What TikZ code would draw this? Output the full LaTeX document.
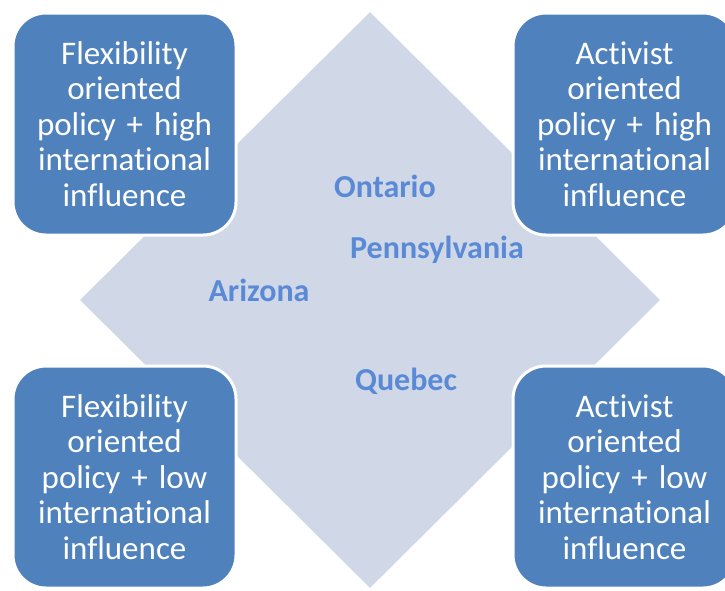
\documentclass[tikz,border=0pt]{standalone}
\usepackage{fontspec}
\setmainfont[Ligatures=NoCommon]{Carlito}
\usepackage{tikz}
\usetikzlibrary{shapes}
\definecolor{boxblue}{HTML}{4F81BD}
\definecolor{paleblue}{HTML}{D0D8E8}
\definecolor{placeblue}{HTML}{5A8AD6}

\begin{document}
\begin{tikzpicture}[x=1pt,y=-1pt,every node/.style={inner sep=0pt},quad/.style={rectangle, rounded corners=33pt, fill=boxblue, draw=white, line width=3pt, minimum width=223pt, minimum height=222pt, text width=205pt, align=center, text=white, font=\fontsize{33}{35.5}\selectfont},place/.style={text=placeblue, font=\fontsize{32}{36}\selectfont\bfseries}]
  \useasboundingbox (0,0) rectangle (725,590);
  \clip (0,0) rectangle (725,590);
  \fill[white] (0,0) rectangle (725,590);
  \node[diamond, fill=paleblue, minimum width=580pt, minimum height=576pt] (middle) at (370,300) {};
  \node[quad] (flexhigh) at (124.5,124) {Flexibility oriented policy + high international influence};
  \node[quad] (acthigh) at (624.5,124) {Activist oriented policy + high international influence};
  \node[quad] (flexlow) at (124.5,477) {Flexibility oriented policy + low international influence};
  \node[quad] (actlow) at (624.5,477) {Activist oriented policy + low international influence};
  \node[place] (ontario) at (385,186) {Ontario};
  \node[place] (penn) at (437,250) {Pennsylvania};
  \node[place] (arizona) at (259,290) {Arizona};
  \node[place] (quebec) at (406,381) {Quebec};
\end{tikzpicture}
\end{document}
